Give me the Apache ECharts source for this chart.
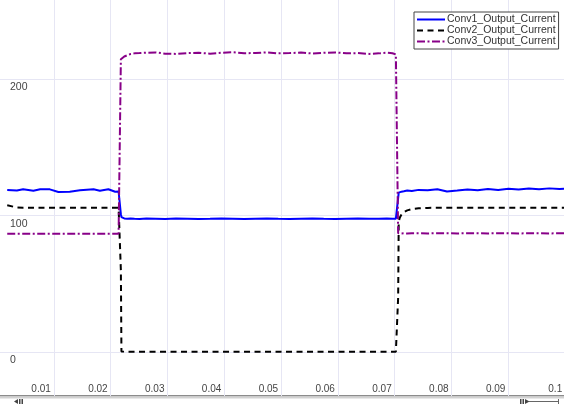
<!DOCTYPE html>
<html>
<head>
<meta charset="utf-8">
<script src="https://cdn.jsdelivr.net/npm/echarts@6/dist/echarts.min.js"></script>
<style>
  html, body { margin: 0; padding: 0; background: #fff; }
  #chart { width: 564px; height: 404px; }
</style>
</head>
<body>
<div id="chart"></div>
<script>
// Simulation time (s)
const time = [
  0.0018, 0.0035, 0.0046, 0.0064, 0.0076, 0.0093, 0.0108, 0.0128, 0.0146, 0.0170, 0.0181, 0.0196, 0.0208, 0.0214, 0.0217,
  0.0218, 0.0219, 0.0221, 0.0224, 0.0229, 0.0235, 0.0242, 0.0251, 0.0263, 0.0279,
  0.0296, 0.0315, 0.0335, 0.0355, 0.0375, 0.0395, 0.0415, 0.0435, 0.0455, 0.0475,
  0.0495, 0.0515, 0.0535, 0.0555, 0.0575, 0.0595, 0.0615, 0.0635, 0.0655, 0.0672,
  0.0686, 0.0696, 0.0702, 0.0705,
  0.0706, 0.0707, 0.0709, 0.0712, 0.0716, 0.0722, 0.0730, 0.0742, 0.0758, 0.0775,
  0.0792, 0.0810, 0.0828, 0.0846, 0.0864, 0.0882, 0.0900, 0.0918, 0.0936, 0.0954, 0.0972, 0.0990, 0.1005
];

const conv1Current = [
  118.7, 118.3, 119.2, 118.2, 119.3, 119.2, 117.3, 117.5, 118.5, 119.2, 118.2, 119.3, 117.4, 117.6, 117.0,
  101.0, 98.9, 98.3, 97.9, 97.7, 97.8, 97.6, 97.5, 97.8, 97.7,
  97.5, 97.8, 97.7, 97.5, 97.6, 97.8, 97.7, 97.5, 97.7, 97.8,
  97.6, 97.5, 97.7, 97.8, 97.6, 97.5, 97.7, 97.8, 97.6, 97.7,
  97.8, 97.6, 97.7, 97.6,
  97.6, 116.8, 117.6, 117.5, 117.8, 118.3, 117.9, 118.8, 118.6, 119.3,
  117.6, 118.3, 119.1, 118.5, 119.5, 118.7, 119.6, 119.0, 119.8, 119.2, 119.9, 119.4, 119.8
];

const conv2Current = [
  107.5, 105.9, 105.7, 105.7, 105.7, 105.7, 105.7, 105.7, 105.7, 105.7, 105.7, 105.7, 105.7, 105.7, 105.7,
  60.0, 0.4, 0.3, 0.3, 0.3, 0.3, 0.3, 0.3, 0.3, 0.3,
  0.3, 0.3, 0.3, 0.3, 0.3, 0.3, 0.3, 0.3, 0.3, 0.3,
  0.3, 0.3, 0.3, 0.3, 0.3, 0.3, 0.3, 0.3, 0.3, 0.3,
  0.3, 0.3, 0.3, 0.3,
  40.0, 95.5, 98.5, 100.8, 102.4, 103.8, 104.7, 105.3, 105.6, 105.7,
  105.7, 105.7, 105.7, 105.7, 105.7, 105.7, 105.7, 105.7, 105.7, 105.7, 105.7, 105.7, 105.7
];

const conv3Current = [
  86.6, 86.6, 86.7, 86.6, 86.6, 86.7, 86.6, 86.6, 86.7, 86.6, 86.6, 86.6, 86.7, 86.6, 86.6,
  214.5, 215.2, 215.8, 216.5, 217.4, 218.3, 218.8, 219.0, 219.3, 219.5,
  218.6, 218.4, 219.0, 219.2, 218.6, 219.3, 219.6, 218.9, 219.1, 219.5,
  218.8, 219.0, 219.4, 218.7, 219.2, 219.5, 218.9, 219.0, 218.4, 218.8,
  219.3, 218.9, 218.0, 217.5,
  87.0, 86.9, 87.0, 86.9, 87.0, 86.9, 87.0, 87.0, 86.9, 87.0,
  87.0, 86.9, 87.0, 87.0, 86.9, 87.0, 87.0, 86.9, 87.0, 87.0, 86.9, 87.0, 87.0
];

const seriesNames = ['Conv1_Output_Current', 'Conv2_Output_Current', 'Conv3_Output_Current'];
const yTickValues = [0, 100, 200];

const pairs = (vals) => time.map((t, i) => [t, vals[i]]);

const axisFont = "'Liberation Sans', Arial, sans-serif";
const gridColor = '#e6e6f4';

const chart = echarts.init(document.getElementById('chart'), null, { renderer: 'canvas' });

chart.setOption({
  animation: false,
  backgroundColor: '#ffffff',
  grid: { left: -3, right: -1.2, top: 0, bottom: 8, outerBoundsMode: 'none', containLabel: false },
  xAxis: {
    type: 'value',
    min: 0,
    max: 0.1,
    interval: 0.01,
    axisLine: { show: false },
    axisTick: { show: false },
    splitLine: { show: true, lineStyle: { color: gridColor, width: 1 } },
    axisLabel: {
      inside: true,
      margin: 2,
      align: 'right',
      padding: [0, 3, 0, 0],
      showMinLabel: false,
      color: '#444',
      fontFamily: axisFont,
      fontSize: 10,
      formatter: (v) => String(+v.toFixed(2))
    }
  },
  yAxis: {
    type: 'value',
    min: -32.2,
    max: 257.9,
    axisLine: { show: false },
    axisTick: { show: false, customValues: yTickValues },
    splitLine: { show: true, lineStyle: { color: gridColor, width: 1 } },
    axisLabel: {
      customValues: yTickValues,
      inside: true,
      margin: 13,
      align: 'left',
      verticalAlign: 'top',
      padding: [3, 0, 0, 0],
      color: '#444',
      fontFamily: axisFont,
      fontSize: 10.5
    }
  },
  legend: {
    data: seriesNames,
    orient: 'vertical',
    left: 414,
    top: 12,
    padding: [2, 3, 2, 2],
    itemGap: 0,
    itemWidth: 28,
    itemHeight: 8,
    borderColor: '#444',
    borderWidth: 1,
    backgroundColor: '#ffffff',
    selectedMode: false,
    // keep only the line sample in each legend key
    itemStyle: { opacity: 0 },
    textStyle: {
      fontFamily: "'Liberation Sans', Arial, sans-serif",
      fontSize: 10.5,
      lineHeight: 8.5,
      color: '#333',
      padding: [0, 0, 0, -3]
    }
  },
  series: [
    {
      name: seriesNames[0], type: 'line', data: pairs(conv1Current),
      symbol: 'none', showSymbol: false, silent: true, z: 2,
      lineStyle: { color: '#0000ff', width: 2 }, itemStyle: { color: '#0000ff' }
    },
    {
      name: seriesNames[1], type: 'line', data: pairs(conv2Current),
      symbol: 'none', showSymbol: false, silent: true, z: 3,
      lineStyle: { color: '#000000', width: 2, type: [6, 4.5] }, itemStyle: { color: '#000000' }
    },
    {
      name: seriesNames[2], type: 'line', data: pairs(conv3Current),
      symbol: 'none', showSymbol: false, silent: true, z: 4,
      lineStyle: { color: '#880088', width: 2, type: [8, 2.5, 2, 2.5] }, itemStyle: { color: '#880088' }
    }
  ],
  // horizontal scroll bar under the plot
  graphic: [
    { type: 'rect', shape: { x: 0, y: 395, width: 564, height: 9 }, style: { fill: '#ffffff' }, silent: true },
    { type: 'rect', shape: { x: 0, y: 395, width: 564, height: 1.5 }, style: { fill: '#8c8c8c' }, silent: true },
    { type: 'rect', shape: { x: 0, y: 396.5, width: 564, height: 2 }, style: { fill: '#d2d2d2' }, silent: true },
    { type: 'polygon', shape: { points: [[14, 401.5], [18, 399], [18, 404]] }, style: { fill: '#444' }, silent: true },
    { type: 'rect', shape: { x: 19, y: 399, width: 1.5, height: 5 }, style: { fill: '#444' }, silent: true },
    { type: 'rect', shape: { x: 21.5, y: 399, width: 1.5, height: 5 }, style: { fill: '#444' }, silent: true },
    { type: 'rect', shape: { x: 520, y: 399, width: 1.5, height: 5 }, style: { fill: '#444' }, silent: true },
    { type: 'rect', shape: { x: 522.5, y: 399, width: 1.5, height: 5 }, style: { fill: '#444' }, silent: true },
    { type: 'polygon', shape: { points: [[525, 399], [529.5, 401.5], [525, 404]] }, style: { fill: '#444' }, silent: true },
    { type: 'line', shape: { x1: 529, y1: 401.5, x2: 558, y2: 401.5 }, style: { stroke: '#666', lineWidth: 1 }, silent: true },
    { type: 'line', shape: { x1: 558.5, y1: 399, x2: 558.5, y2: 404 }, style: { stroke: '#666', lineWidth: 1 }, silent: true }
  ]
});
</script>
</body>
</html>
